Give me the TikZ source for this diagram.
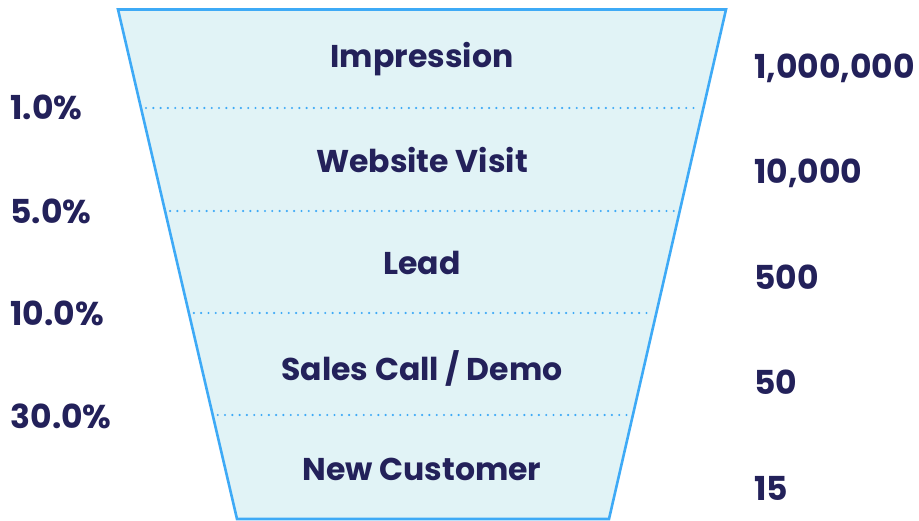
\documentclass[tikz,border=0pt]{standalone}
\usepackage{fontspec}
\setmainfont{Poppins}
\usepackage{tikz}
\usetikzlibrary{calc}
\definecolor{navy}{HTML}{23215A}
\definecolor{skyline}{HTML}{3EAAF6}
\definecolor{paleaqua}{HTML}{E1F3F6}

\tikzset{
	stage/.style = {navy, font=\bfseries\fontsize{31.5}{36}\selectfont, anchor=center},
	rate/.style = {navy, font=\bfseries\fontsize{33}{38}\selectfont, anchor=west},
	count/.style = {navy, font=\bfseries\fontsize{33}{38}\selectfont, anchor=west},
	divider/.style = {skyline, line width=2.4pt, dash pattern=on 0pt off 7.3pt, line cap=round}
}

\begin{document}
\begin{tikzpicture}[x=1pt,y=-1pt]
		\useasboundingbox (0,0) rectangle (919,521);
		
		%----------------------------------------------------------------
		% funnel body
		\draw [fill=paleaqua, draw=skyline, line width=2.6pt, line join=miter]
		(118,9.5) -- (726,9.5) -- (609,519) -- (237,519) -- cycle;
		
		\foreach \y in {108,211,313,415} {
			\draw [divider] ($(118,9.5)!{(\y-9.5)/509.5}!(237,519)+(5,0)$) -- ($(726,9.5)!{(\y-9.5)/509.5}!(609,519)+(-5,0)$);
		}
		
		%----------------------------------------------------------------
		\node(impression) [stage] at (422,59) {Impression};
		\node(visit) [stage] at (422,160) {Website Visit};
		\node(lead) [stage] at (422,263) {Lead};
		\node(call) [stage] at (422,368) {Sales Call / Demo};
		\node(customer) [stage] at (422,469) {New Customer};
		
		%----------------------------------------------------------------
		\node(rateA) [rate] at (7,107) {1.0\%};
		\node(rateB) [rate] at (7,211) {5.0\%};
		\node(rateC) [rate] at (7,313) {10.0\%};
		\node(rateD) [rate] at (7,416) {30.0\%};
		
		%----------------------------------------------------------------
		\node(countA) [count] at (751,68) {1,000,000};
		\node(countB) [count] at (751,173) {10,000};
		\node(countC) [count] at (751,277) {500};
		\node(countD) [count] at (751,382) {50};
		\node(countE) [count] at (751,488) {15};
		
	\end{tikzpicture}
\end{document}
